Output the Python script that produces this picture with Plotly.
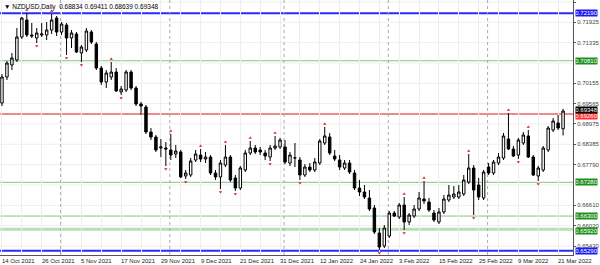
import plotly.graph_objects as go
import pandas as pd

# ---------------- data ----------------
dates = pd.bdate_range("2021-10-14", "2022-03-22")

open_ = [0.69582, 0.70337, 0.70686, 0.70831, 0.71499, 0.71992, 0.71557, 0.71470, 0.71557, 0.71557,
         0.71702, 0.72050, 0.71644, 0.71847, 0.71470, 0.71586, 0.71034, 0.71121, 0.71644, 0.71295,
         0.70599, 0.70192, 0.70337, 0.70482, 0.69902, 0.69960, 0.70482, 0.70018, 0.69553, 0.69466,
         0.68740, 0.68595, 0.68276, 0.68276, 0.68218, 0.68101, 0.68160, 0.67463, 0.67492, 0.67927,
         0.68072, 0.67956, 0.68014, 0.67550, 0.67434, 0.67782, 0.68014, 0.67405, 0.67114, 0.67637,
         0.68130, 0.68276, 0.68218, 0.68130, 0.68014, 0.68276, 0.68305, 0.68305, 0.67840, 0.67985,
         0.67927, 0.67492, 0.67724, 0.67637, 0.67840, 0.68421, 0.68595, 0.68043, 0.67927, 0.67695,
         0.67840, 0.67550, 0.67114, 0.66998, 0.66824, 0.66533, 0.65808, 0.65430, 0.65721, 0.66388,
         0.66272, 0.66621, 0.66127, 0.66301, 0.66504, 0.66795, 0.66708, 0.66388, 0.66127, 0.66417,
         0.66766, 0.66853, 0.66853, 0.66940, 0.67288, 0.67695, 0.67201, 0.66824, 0.67724, 0.67550,
         0.67840, 0.67985, 0.68537, 0.68247, 0.68072, 0.68421, 0.68624, 0.68014, 0.67463, 0.67637,
         0.68218, 0.68798, 0.69002, 0.68834]
high = [0.70424, 0.70802, 0.71034, 0.71760, 0.72079, 0.72196, 0.71905, 0.71760, 0.71905, 0.71934,
        0.72167, 0.72108, 0.71934, 0.71905, 0.71702, 0.71644, 0.71266, 0.71760, 0.71702, 0.71353,
        0.70657, 0.70540, 0.70773, 0.70599, 0.70076, 0.70540, 0.70540, 0.70076, 0.69611, 0.69524,
        0.68856, 0.68653, 0.68537, 0.68450, 0.68682, 0.68363, 0.68218, 0.67637, 0.67985, 0.68218,
        0.68247, 0.68160, 0.68072, 0.67637, 0.67927, 0.68363, 0.68072, 0.67492, 0.67753, 0.68218,
        0.68479, 0.68363, 0.68305, 0.68218, 0.68363, 0.68624, 0.68566, 0.68508, 0.68160, 0.68421,
        0.68014, 0.67811, 0.67840, 0.67985, 0.68537, 0.68885, 0.68711, 0.68218, 0.68072, 0.67927,
        0.67927, 0.67637, 0.67347, 0.67201, 0.67056, 0.66621, 0.65953, 0.66040, 0.66446, 0.66446,
        0.66679, 0.66853, 0.66388, 0.66621, 0.66998, 0.67318, 0.66824, 0.66475, 0.66533, 0.66911,
        0.67201, 0.67172, 0.67201, 0.67492, 0.68101, 0.67782, 0.67405, 0.67637, 0.67840, 0.67927,
        0.68130, 0.68711, 0.69292, 0.68334, 0.68566, 0.68740, 0.68798, 0.68072, 0.67753, 0.68334,
        0.68914, 0.69147, 0.69234, 0.69411]
low = [0.69495, 0.70250, 0.70540, 0.70773, 0.71441, 0.71499, 0.71470, 0.71324, 0.71499, 0.71412,
       0.71586, 0.71528, 0.71557, 0.70976, 0.71179, 0.71034, 0.70773, 0.71063, 0.71295, 0.70540,
       0.70105, 0.70018, 0.70250, 0.69902, 0.69815, 0.69902, 0.69960, 0.69495, 0.69234, 0.68682,
       0.68508, 0.68160, 0.68014, 0.67753, 0.67927, 0.67985, 0.67405, 0.67376, 0.67434, 0.67869,
       0.67869, 0.67840, 0.67492, 0.67347, 0.67085, 0.67724, 0.67288, 0.67027, 0.67056, 0.67579,
       0.68072, 0.68101, 0.68072, 0.67927, 0.67898, 0.68218, 0.68247, 0.67811, 0.67753, 0.67724,
       0.67347, 0.67434, 0.67579, 0.67579, 0.67782, 0.68363, 0.68072, 0.67898, 0.67637, 0.67637,
       0.67521, 0.67056, 0.66882, 0.66795, 0.66446, 0.65779, 0.65314, 0.65372, 0.65663, 0.66272,
       0.66214, 0.65895, 0.66040, 0.66243, 0.66446, 0.66650, 0.66417, 0.66127, 0.66069, 0.66359,
       0.66708, 0.66795, 0.66795, 0.66882, 0.67230, 0.66330, 0.66766, 0.66766, 0.67492, 0.67492,
       0.67782, 0.67927, 0.68218, 0.68014, 0.67956, 0.68363, 0.67985, 0.67463, 0.67318, 0.67579,
       0.68160, 0.68740, 0.68798, 0.68639]
close = [0.70337, 0.70744, 0.70889, 0.71499, 0.72050, 0.71557, 0.71528, 0.71615, 0.71586, 0.71702,
         0.71992, 0.71644, 0.71876, 0.71470, 0.71615, 0.71063, 0.71208, 0.71673, 0.71353, 0.70599,
         0.70192, 0.70453, 0.70482, 0.69931, 0.69989, 0.70482, 0.70018, 0.69553, 0.69495, 0.68740,
         0.68595, 0.68218, 0.68305, 0.68247, 0.68072, 0.68189, 0.67434, 0.67550, 0.67898, 0.68101,
         0.67956, 0.68014, 0.67550, 0.67434, 0.67840, 0.68014, 0.67347, 0.67114, 0.67695, 0.68130,
         0.68276, 0.68160, 0.68160, 0.68043, 0.68276, 0.68334, 0.68508, 0.67869, 0.68072, 0.67990,
         0.67492, 0.67724, 0.67637, 0.67869, 0.68479, 0.68624, 0.68130, 0.67956, 0.67724, 0.67840,
         0.67579, 0.67114, 0.66998, 0.66853, 0.66504, 0.65837, 0.65401, 0.65953, 0.66388, 0.66301,
         0.66621, 0.66127, 0.66330, 0.66504, 0.66824, 0.66737, 0.66475, 0.66185, 0.66417, 0.66795,
         0.66911, 0.66940, 0.66998, 0.67347, 0.67695, 0.67056, 0.66853, 0.67579, 0.67550, 0.67869,
         0.68014, 0.68624, 0.68247, 0.68043, 0.68508, 0.68653, 0.68014, 0.67492, 0.67695, 0.68276,
         0.68856, 0.69060, 0.68856, 0.69348]

fractal_up_idx = [5, 10, 22, 34, 40, 45, 50, 55, 65, 81, 85, 94, 102, 106]
fractal_down_idx = [7, 13, 16, 24, 33, 37, 44, 47, 54, 60, 76, 81, 95, 104, 108]

level_prices = [0.72190, 0.70810, 0.69260, 0.67280, 0.66300, 0.65920, 0.65290]
level_kinds = ["blue", "green", "red", "green", "green", "greenband", "blue"]

price_ticks = [0.72515, 0.71925, 0.71335, 0.70155, 0.69565, 0.68975, 0.68385,
               0.67790, 0.66610, 0.66020, 0.65430]
grid_prices = [0.72515, 0.71925, 0.71335, 0.70745, 0.70155, 0.69565, 0.68975, 0.68385,
               0.67790, 0.67200, 0.66610, 0.66020, 0.65430]

symbol_name = "NZDUSD,Daily"

# ---------------- figure ----------------
n = len(dates)
x = list(range(n))
FONT = "Liberation Sans"
FS = 6

fig = go.Figure()

line_style = {
    "blue": dict(color="#2b2bff", width=2),
    "green": dict(color="#8cc08c", width=1),
    "greenband": dict(color="#b6dfb6", width=3),
    "red": dict(color="#ee8a8a", width=2),
}
box_color = {"blue": "#1c1cf0", "green": "#1f8f1f", "greenband": "#1f8f1f", "red": "#ff2a2a"}
box_nudge = {"blue": 0, "green": 0, "greenband": -1.5, "red": -1.5}

for gp in grid_prices:
    fig.add_shape(type="line", xref="paper", x0=0, x1=1, yref="y", y0=gp, y1=gp,
                  line=dict(color="#eeeeee", width=1), layer="below")
for p, k in zip(level_prices, level_kinds):
    fig.add_shape(type="line", xref="paper", x0=0, x1=1, yref="y", y0=p, y1=p,
                  line=line_style[k], layer="below")

# month separators
prev_month = None
for i, d in enumerate(dates):
    if prev_month is not None and d.month != prev_month:
        fig.add_shape(type="line", xref="x", x0=i - 0.2, x1=i - 0.2, yref="paper", y0=0, y1=1,
                      line=dict(color="#a8a8a8", width=1, dash="dot"), layer="below")
    prev_month = d.month

fig.add_trace(go.Candlestick(
    x=x, open=open_, high=high, low=low, close=close,
    increasing=dict(line=dict(color="black", width=1), fillcolor="white"),
    decreasing=dict(line=dict(color="black", width=1), fillcolor="black"),
    whiskerwidth=0, showlegend=False, hoverinfo="skip",
))

off = 0.0009
fig.add_trace(go.Scatter(
    x=fractal_up_idx, y=[high[i] + off for i in fractal_up_idx], mode="markers",
    marker=dict(symbol="triangle-up", size=3, color="#e02020"), showlegend=False, hoverinfo="skip"))
fig.add_trace(go.Scatter(
    x=fractal_down_idx, y=[low[i] - off for i in fractal_down_idx], mode="markers",
    marker=dict(symbol="triangle-down", size=3, color="#e02020"), showlegend=False, hoverinfo="skip"))

annotations = []
annotations.append(dict(
    xref="paper", yref="paper", x=0, y=1, xanchor="left", yanchor="top", xshift=2, yshift=-1,
    text="▼ %s  %.5f %.5f %.5f %.5f" % (symbol_name, open_[-1], high[-1], low[-1], close[-1]),
    showarrow=False, font=dict(size=6.5, color="#000", family=FONT)))

for i in range(0, n, 8):
    d = dates[i]
    annotations.append(dict(
        xref="x", yref="paper", x=i - 0.4, y=0, xanchor="left", yanchor="top", yshift=-1,
        text="%d %s" % (d.day, d.strftime("%b %Y")), showarrow=False,
        font=dict(size=FS, color="#222", family=FONT)))

# price boxes on the right (black = current close)
box_items = [(p, box_color[k], box_nudge[k]) for p, k in zip(level_prices, level_kinds)]
box_items.append((close[-1], "#000000", 1.5))
for p, c, ys in box_items:
    annotations.append(dict(
        xref="paper", yref="y", x=1, y=p, xanchor="left", yanchor="middle", xshift=2, yshift=ys,
        text="%.5f" % p, showarrow=False, bgcolor=c, borderpad=0, height=6, width=21,
        font=dict(size=FS, color="white", family=FONT)))

fig.update_layout(
    width=600, height=265, autosize=False,
    margin=dict(l=0, r=23, t=0, b=10),
    paper_bgcolor="white", plot_bgcolor="white",
    annotations=annotations,
    xaxis=dict(
        range=[-0.4, 115], showticklabels=False, rangeslider=dict(visible=False),
        tickmode="linear", tick0=0, dtick=4, showgrid=True, gridcolor="#eeeeee", gridwidth=1,
        zeroline=False, showline=True, linecolor="#555", linewidth=1, ticks="",
    ),
    yaxis=dict(
        side="right", range=[0.65169, 0.72573], tickmode="array",
        tickvals=price_ticks, ticktext=["%.5f" % v for v in price_ticks],
        tickfont=dict(size=FS, color="#444", family=FONT),
        ticks="outside", ticklen=2, tickcolor="#555",
        showgrid=False, zeroline=False, showline=True, linecolor="#555", linewidth=1,
    ),
)

fig.write_html("out.html")
